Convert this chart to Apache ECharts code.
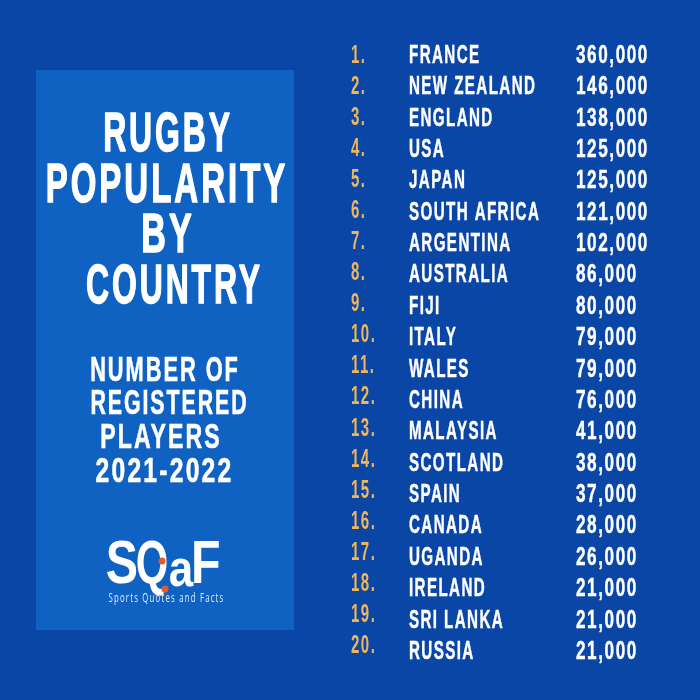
<!DOCTYPE html>
<html><head><meta charset="utf-8">
<style>html,body{margin:0;padding:0;background:#0a46a6}#c{width:700px;height:700px}</style>
<script src="https://cdn.jsdelivr.net/npm/echarts@6/dist/echarts.min.js"></script>
</head><body><div id="c"></div>
<script>
const ranks=["1.","2.","3.","4.","5.","6.","7.","8.","9.","10.","11.","12.","13.","14.","15.","16.","17.","18.","19.","20."];
const countries=["FRANCE","NEW ZEALAND","ENGLAND","USA","JAPAN","SOUTH AFRICA","ARGENTINA","AUSTRALIA","FIJI","ITALY","WALES","CHINA","MALAYSIA","SCOTLAND","SPAIN","CANADA","UGANDA","IRELAND","SRI LANKA","RUSSIA"];
const players=[360000,146000,138000,125000,125000,121000,102000,86000,80000,79000,79000,76000,41000,38000,37000,28000,26000,21000,21000,21000];
const titleLines=["RUGBY","POPULARITY","BY","COUNTRY"];
const subtitleLines=["NUMBER OF","REGISTERED","PLAYERS","2021-2022"];
const BG="#0a46a6",PANEL="#0f62c1",GOLD="#eeb65c",FONT='"Liberation Sans"';
const fmt=v=>v.toLocaleString("en-US");
const valueLabels=players.map(fmt);
const origGet=HTMLCanvasElement.prototype.getContext;
HTMLCanvasElement.prototype.getContext=function(t,o){const c=origGet.call(this,t,o);if(t==="2d"&&c&&!c.__ls){c.letterSpacing="2px";c.__ls=1;}return c;};
const chart=echarts.init(document.getElementById("c"),null,{renderer:"canvas"});
function column(idx,labels,color,fs,sx,sy,sw){
  return {type:"custom",coordinateSystem:"cartesian2d",xAxisIndex:idx,yAxisIndex:idx,silent:true,animation:false,
    data:labels.map(l=>[0,l]),encode:{x:0,y:1},
    renderItem(params,api){
      const p=api.coord([0,params.dataIndex]);
      return {type:"text",x:p[0],y:p[1],scaleX:sx,scaleY:sy,
        style:{text:labels[params.dataIndex],fill:color,stroke:color,lineWidth:sw,font:`bold ${fs}px ${FONT}`,textAlign:"left",textVerticalAlign:"middle"}};
    }};
}
const grids=[{left:351,top:40.5,width:60,height:621},{left:409,top:40.3,width:160,height:627.4},{left:576,top:40.3,width:80,height:627.4}];
const cols=[ranks,countries,valueLabels];
function gt(text,cx,cy,fs,sx,sy,sw){
  return {type:"text",x:cx,y:cy,scaleX:sx,scaleY:sy,silent:true,
    style:{text,fill:"#fff",stroke:"#fff",lineWidth:sw||0,font:`bold ${fs}px ${FONT}`,textAlign:"center",textVerticalAlign:"middle"}};
}
const titlePos=[[168,135.5],[167,186.5],[168,236.5],[174.5,287.5]];
const titleScale=[1.45,1.50,1.55,1.45];
const subPos=[[165,372],[169.5,405],[161,439],[164.5,473]];
const subScale=[0.99,0.97,1.05,1.12];
const graphic=[
  {type:"rect",shape:{x:36,y:70,width:258,height:560},style:{fill:PANEL},z:-1,silent:true},
  ...titleLines.map((t,i)=>gt(t,titlePos[i][0],titlePos[i][1],22,titleScale[i],2.5,0.6)),
  ...subtitleLines.map((t,i)=>gt(t,subPos[i][0],subPos[i][1],22,subScale[i],1.56,0.4)),
  gt("S",124,566,22,2.2,2.75),
  gt("Q",154,566,22,1.9,2.75),
  gt("a",183,572,22,2,2.35),
  gt("F",208,566,22,2.2,2.75),
  {type:"circle",shape:{cx:162,cy:561,r:3.5},style:{fill:"#e8582a"},silent:true},
  {type:"circle",shape:{cx:165,cy:589,r:3.5},style:{fill:"#e8582a"},silent:true},
  {type:"text",x:166.5,y:598,scaleX:0.6,silent:true,style:{text:"Sports Quotes and Facts",fill:"#e4eefb",font:'13px "Open Sans"',textAlign:"center",textVerticalAlign:"middle"}}
];
chart.setOption({animation:false,backgroundColor:BG,
  grid:grids,
  xAxis:grids.map((g,i)=>({type:"value",gridIndex:i,min:0,max:1,show:false})),
  yAxis:grids.map((g,i)=>({type:"category",gridIndex:i,inverse:true,data:cols[i],show:false})),
  series:[column(0,ranks,GOLD,20,0.75,1.25,0),column(1,countries,"#fff",22,0.69,1.14,0.4),column(2,valueLabels,"#fff",22,0.78,1.14,0.4)],
  graphic:{elements:graphic}
});
</script></body></html>
